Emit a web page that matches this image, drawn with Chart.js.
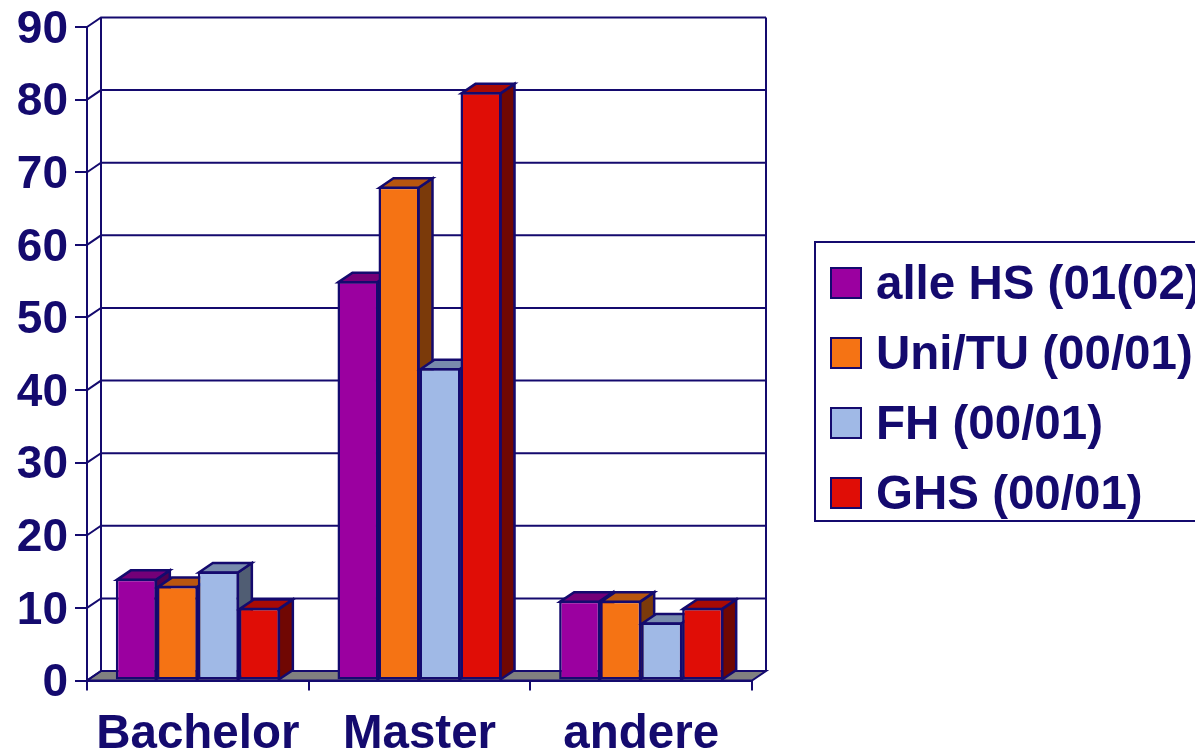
<!DOCTYPE html>
<html>
<head>
<meta charset="utf-8">
<title>Abschluss</title>
<script src="https://cdn.jsdelivr.net/npm/chart.js@4/dist/chart.umd.min.js"></script>
<style>
	html, body { margin: 0; padding: 0; background: #fff; overflow: hidden; }
	#wrap { position: relative; width: 1195px; height: 754px; overflow: hidden; }
	#legend { position: absolute; left: 814px; top: 241px; width: 400px; border: 2px solid #140a6e; padding-top: 5px; height: 272px; font: bold 47.5px "Liberation Sans", Arial, sans-serif; color: #140a6e; }
	.row { position: relative; height: 70px; line-height: 70px; white-space: nowrap; padding-left: 60px; }
	.swatch { position: absolute; left: 14px; top: 19px; width: 28px; height: 28px; border: 2px solid #140a6e; }
</style>
</head>
<body>
<div id="wrap">
	<canvas id="chart" width="1195" height="754"></canvas>
	<div id="legend"></div>
</div>
<script>
	//chart data
	var categories = ['Bachelor', 'Master', 'andere'];
	var series_names = ['alle HS (01(02)', 'Uni/TU (00/01)', 'FH (00/01)', 'GHS (00/01)'];
	var alle_hs = [14, 55, 11];
	var uni_tu = [13, 68, 11];
	var fh = [15, 43, 8];
	var ghs = [10, 81, 10];
	var series_colors = ['#9b00a0', '#f57314', '#a0b9e6', '#e00d06'];

	var navy = '#140a6e';
	var font_family = '"Liberation Sans", Arial, sans-serif';
	//fake 3d depth of the bars and walls
	var depth_x = 14;
	var depth_y = 9.5;
	var bar_line = 2.5;

	//darkens a hex color by a factor
	function shade(hex, f) {
		var n = parseInt(hex.slice(1), 16);
		return 'rgb(' + Math.round((n >> 16) * f) + ',' + Math.round((n >> 8 & 255) * f) + ',' + Math.round((n & 255) * f) + ')';
	}

	function poly(ctx, pts, fill) {
		ctx.beginPath();
		ctx.moveTo(pts[0][0], pts[0][1]);
		for (var i = 1; i < pts.length; i++) { ctx.lineTo(pts[i][0], pts[i][1]); }
		ctx.closePath();
		if (fill) { ctx.fillStyle = fill; ctx.fill(); }
		ctx.stroke();
	}

	//the library would paint the last series first, here the bars overlap left to right
	var walls = {
		id: 'walls',
		//y labels sit a bit below their tick in the original
		afterLayout: function(chart) {
			chart.scales.y.getLabelItems().forEach(function(item) {
				item.options.translation[1] += 3;
			});
		},
		beforeDatasetsDraw: function(chart) {
			var ctx = chart.ctx, a = chart.chartArea, y = chart.scales.y;
			ctx.save();
			ctx.strokeStyle = navy;
			ctx.lineWidth = 2;

			//floor
			poly(ctx, [[a.left, a.bottom], [a.left + depth_x, a.bottom - depth_y], [a.right + depth_x, a.bottom - depth_y], [a.right, a.bottom]], '#808080');

			//grid on left and back wall
			y.ticks.forEach(function(t) {
				var py = y.getPixelForValue(t.value);
				ctx.beginPath();
				ctx.moveTo(a.left, py);
				ctx.lineTo(a.left + depth_x, py - depth_y);
				if (t.value > 0) { ctx.lineTo(a.right + depth_x, py - depth_y); }
				ctx.stroke();
			});
			ctx.beginPath();
			ctx.moveTo(a.left + depth_x, a.bottom - depth_y);
			ctx.lineTo(a.left + depth_x, a.top - depth_y);
			ctx.moveTo(a.right + depth_x, a.top - depth_y);
			ctx.lineTo(a.right + depth_x, a.bottom - depth_y);
			ctx.stroke();

			//top and side of each bar, then its front
			ctx.lineWidth = bar_line;
			chart.data.datasets.forEach(function(ds, i) {
				var meta = chart.getDatasetMeta(i);
				meta.data.forEach(function(bar) {
					var l = bar.x - bar.width / 2 + 1, r = bar.x + bar.width / 2 - 1;
					var t = bar.y + 1, b = bar.base;
					poly(ctx, [[r, t], [r + depth_x, t - depth_y], [r + depth_x, b - depth_y], [r, b]], shade(series_colors[i], 0.5));
					poly(ctx, [[l, t], [l + depth_x, t - depth_y], [r + depth_x, t - depth_y], [r, t]], shade(series_colors[i], 0.75));
				});
				meta.controller.draw();
			});
			ctx.restore();
			return false;
		}
	};

	//no label overhang around the plot
	function noPadding(s) {
		s.paddingTop = 0;
		s.paddingBottom = 0;
		s.paddingLeft = 0;
		s.paddingRight = 0;
	}

	var values = [alle_hs, uni_tu, fh, ghs];
	var datasets = values.map(function(v, i) {
		return {
			label: series_names[i],
			data: v,
			backgroundColor: series_colors[i],
			borderColor: navy,
			borderWidth: bar_line,
			borderSkipped: false
		};
	});

	new Chart(document.getElementById('chart'), {
		type: 'bar',
		data: { labels: categories, datasets: datasets },
		plugins: [walls],
		options: {
			responsive: false,
			animation: false,
			categoryPercentage: 0.74,
			barPercentage: 1,
			layout: { padding: { left: 0, top: 27, right: 443, bottom: 0 } },
			plugins: { legend: { display: false }, tooltip: { enabled: false } },
			scales: {
				x: {
					afterFit: function(s) { s.height = 73.5; noPadding(s); },
					grid: { drawOnChartArea: false, color: navy, lineWidth: 2, tickLength: 10 },
					border: { color: navy, width: 2 },
					ticks: { color: navy, font: { family: font_family, size: 47.5, weight: 'bold' }, padding: 16, maxRotation: 0 }
				},
				y: {
					min: 0,
					max: 90,
					afterFit: function(s) { s.width = 87; noPadding(s); },
					grid: { drawOnChartArea: false, color: navy, lineWidth: 2, tickLength: 12 },
					border: { color: navy, width: 2 },
					ticks: { color: navy, font: { family: font_family, size: 46, weight: 'bold' }, stepSize: 10, padding: 7 }
				}
			}
		}
	});

	//legend box
	var legend = document.getElementById('legend');
	series_names.forEach(function(name, i) {
		var row = document.createElement('div');
		row.className = 'row';
		var sw = document.createElement('span');
		sw.className = 'swatch';
		sw.style.background = series_colors[i];
		row.appendChild(sw);
		row.appendChild(document.createTextNode(name));
		legend.appendChild(row);
	});
</script>
</body>
</html>
